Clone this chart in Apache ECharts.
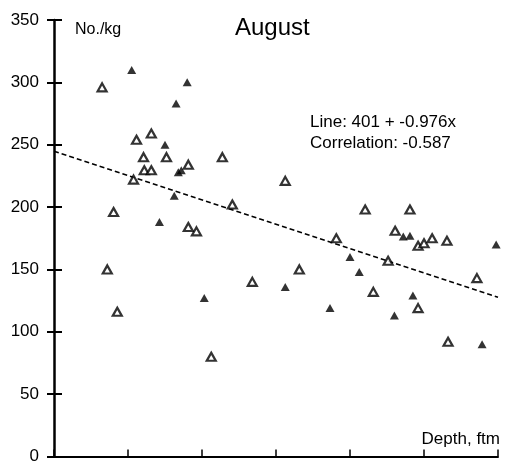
<!DOCTYPE html>
<html>
<head>
<meta charset="utf-8">
<title>August</title>
<script src="https://cdn.jsdelivr.net/npm/echarts@6/dist/echarts.min.js"></script>
<style>
  html, body { margin: 0; padding: 0; background: #fff; }
  #chart { width: 505px; height: 465px; }
</style>
</head>
<body>
<div id="chart"></div>
<script>
// filled triangles (depth ftm, No./kg)
const filledX = [181, 196, 193, 190, 193.6, 194.4, 192.5, 188.5, 200.6, 254.4, 256.2, 279.5, 240, 242.5, 222.5, 257, 234.6, 252, 275.7]
const filledY = [310, 300, 283, 250, 228, 229.5, 209, 188, 127, 176.5, 177, 170, 160, 148, 136, 129, 119, 113, 90]

// open triangles
const openX = [173, 186.3, 182.3, 184.2, 190.4, 205.5, 184.4, 186.3, 196.3, 181.5, 208.2, 176.1, 196.3, 198.5, 174.4, 213.6, 177.1, 202.5,
  222.5, 244.1, 256.2, 236.3, 252.2, 258.4, 260, 262.2, 266.2, 250.3, 226.3, 274.3, 246.3, 258.4, 266.5]
const openY = [296, 259, 254, 240, 240, 240, 229.5, 229.5, 234, 222, 202, 196, 184, 180.5, 150, 140, 116, 80,
  221, 198, 198, 175, 181, 169, 171, 175, 173, 157, 150, 143, 132, 119, 92]

// regression line end points
const regX = [160, 280]
const regY = [244.8, 127.7]

const yTicks = [0, 50, 100, 150, 200, 250, 300, 350]

const pairs = (xs, ys) => xs.map((x, i) => [x, ys[i]])

const chart = echarts.init(document.getElementById('chart'))

const font = 'Liberation Sans, Arial, sans-serif'

const option = {
  animation: false,
  backgroundColor: '#fff',
  title: {
    text: 'August',
    left: 230,
    top: 11,
    textStyle: { fontFamily: font, fontSize: 24, fontWeight: 'normal', color: '#000' }
  },
  grid: { left: 54, right: 7, top: 20, bottom: 2, containLabel: false },
  xAxis: {
    type: 'value',
    min: 160,
    max: 280,
    interval: 20,
    splitLine: { show: false },
    axisLine: { lineStyle: { color: '#000', width: 2 } },
    axisTick: { inside: true, length: 7, lineStyle: { color: '#000', width: 1.5 } },
    axisLabel: { show: false }
  },
  yAxis: [
    {
      type: 'value',
      min: yTicks[0],
      max: yTicks[yTicks.length - 1],
      interval: 50,
      splitLine: { show: false },
      axisLine: { show: true, lineStyle: { color: '#000', width: 2.5 } },
      axisTick: { inside: false, length: 7, lineStyle: { color: '#000', width: 2 } },
      axisLabel: { color: '#000', fontFamily: font, fontSize: 17, margin: 15 }
    },
    {
      // inner half of the cross ticks
      type: 'value',
      position: 'left',
      offset: 0,
      min: yTicks[0],
      max: yTicks[yTicks.length - 1],
      interval: 50,
      splitLine: { show: false },
      axisLine: { show: false },
      axisTick: { show: true, inside: true, length: 8, lineStyle: { color: '#000', width: 2 } },
      axisLabel: { show: false }
    }
  ],
  graphic: [
    {
      type: 'text', left: 75, top: 22,
      style: { text: 'No./kg', fill: '#000', font: '16px ' + font }
    },
    {
      type: 'text', left: 310, top: 112,
      style: { text: 'Line: 401 + -0.976x\nCorrelation: -0.587', fill: '#000', font: '17px ' + font, lineHeight: 21 }
    },
    {
      type: 'text', right: 5, top: 431,
      style: { text: 'Depth, ftm', fill: '#000', font: '17px ' + font }
    }
  ],
  series: [
    {
      type: 'line',
      data: pairs(regX, regY),
      symbol: 'none',
      silent: true,
      lineStyle: { color: '#000', width: 1.5, type: [5, 3] },
      z: 1
    },
    {
      type: 'scatter',
      data: pairs(openX, openY),
      symbol: 'triangle',
      symbolSize: [9, 8],
      itemStyle: { color: '#fff', borderColor: '#000', borderWidth: 2.2 },
      z: 2
    },
    {
      type: 'scatter',
      data: pairs(filledX, filledY),
      symbol: 'triangle',
      symbolSize: [9, 8],
      itemStyle: { color: '#000' },
      z: 3
    }
  ]
}

chart.setOption(option)
</script>
</body>
</html>
